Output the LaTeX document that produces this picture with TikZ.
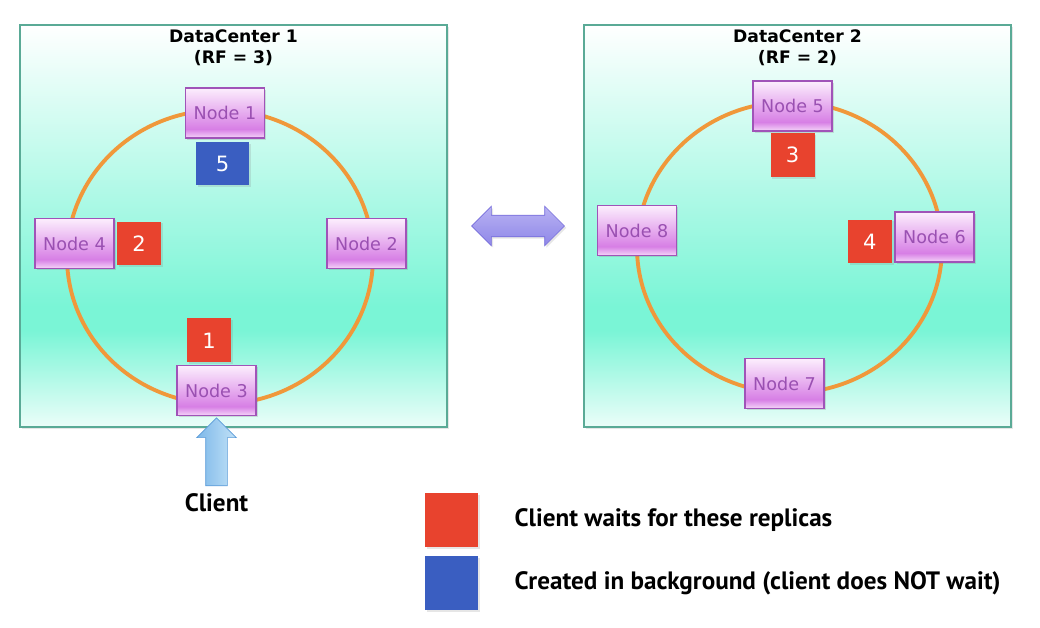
\documentclass[tikz,border=0pt]{standalone}
\usepackage{fontspec}
\setmainfont{DejaVu Sans}
\newfontfamily\legendfont{PT Sans}
\usetikzlibrary{shapes,arrows,positioning,shadows}

\definecolor{dcborder}{HTML}{5AAA96}
\definecolor{dcmint}{HTML}{7AF5D6}
\definecolor{ringorange}{HTML}{F0983A}
\definecolor{nodeborder}{HTML}{A053B8}
\definecolor{nodetext}{HTML}{9A50B2}
\definecolor{nodetop}{HTML}{FCEEFD}
\definecolor{nodemid}{HTML}{D77FE5}
\definecolor{nodelow}{HTML}{F5D6F9}
\definecolor{waitred}{HTML}{E8432E}
\definecolor{bgblue}{HTML}{3A5EC1}
\definecolor{clientlight}{HTML}{C2E1F7}
\definecolor{clientdark}{HTML}{7DB9E9}
\definecolor{clientborder}{HTML}{5B9BD8}
\definecolor{linklight}{HTML}{B8B2F3}
\definecolor{linkdark}{HTML}{8F87E8}
\definecolor{linkborder}{HTML}{756CDB}

\pgfdeclareverticalshading{dcshade}{100bp}{color(0bp)=(dcmint!15); color(25bp)=(dcmint!15); color(37bp)=(dcmint); color(40bp)=(dcmint); color(75bp)=(white); color(100bp)=(white)}
\pgfdeclareverticalshading{nodeshade}{100bp}{color(0bp)=(nodelow); color(25bp)=(nodelow); color(34bp)=(nodemid); color(75bp)=(nodetop); color(100bp)=(nodetop)}

\begin{document}
\begin{tikzpicture}[
    x=0.02cm, y=-0.02cm,
    dcbox/.style={rectangle, draw=dcborder, line width=1.2pt, shading=dcshade, minimum width=8.54cm, minimum height=8.04cm, inner sep=0pt, drop shadow={shadow xshift=1.2pt, shadow yshift=-1.2pt, opacity=0.2}},
    title/.style={font=\bfseries\fontsize{9.8}{11.9}\selectfont, align=center, inner sep=0pt},
    ring/.style={draw=ringorange, line width=2.2pt},
    dbnode/.style={rectangle, draw=nodeborder, line width=0.9pt, shading=nodeshade, minimum width=1.58cm, minimum height=1cm, inner sep=0pt, text=nodetext, font=\fontsize{10}{12}\selectfont, drop shadow={shadow xshift=1pt, shadow yshift=-1pt, opacity=0.25}},
    replica/.style={rectangle, minimum width=0.88cm, minimum height=0.88cm, inner sep=0pt, text=white, font=\fontsize{12}{14}\selectfont, drop shadow={shadow xshift=1pt, shadow yshift=-1pt, opacity=0.2}},
    waitbox/.style={replica, fill=waitred},
    bgbox/.style={replica, fill=bgblue},
    clientarrow/.style={single arrow, shape border rotate=90, draw=clientborder, left color=clientdark, right color=clientlight, minimum height=1.36cm, inner sep=0.21cm, single arrow head extend=0.18cm},
    linkarrow/.style={double arrow, draw=linkborder, top color=linklight, bottom color=linkdark, minimum height=1.86cm, inner sep=0.21cm, double arrow head extend=0.18cm, drop shadow={shadow xshift=1pt, shadow yshift=-1pt, opacity=0.2}},
    legendbox/.style={rectangle, minimum width=1.06cm, minimum height=1.07cm, inner sep=0pt, drop shadow={shadow xshift=1pt, shadow yshift=-1pt, opacity=0.2}},
    legendtext/.style={font=\legendfont\bfseries\fontsize{14.3}{16}\selectfont, inner sep=0pt}
]
\useasboundingbox (0,0) rectangle (1040,628);

% Data centers
\node[dcbox] (dc1) at (233.5,226) {};
\node[dcbox] (dc2) at (797.5,226) {};
\node[title, below=0.1cm of dc1.north] (dc1title) {DataCenter 1\\(RF = 3)};
\node[title, below=0.1cm of dc2.north] (dc2title) {DataCenter 2\\(RF = 2)};

% Rings
\draw[ring] (220,257) ellipse [x radius=153, y radius=147];
\draw[ring] (789.5,247.5) ellipse [x radius=152.5, y radius=145.5];

% Nodes of DataCenter 1
\node[dbnode] (n1) at (225,113) {Node 1};
\node[dbnode] (n2) at (366.5,243.5) {Node 2};
\node[dbnode] (n3) at (216.5,390.5) {Node 3};
\node[dbnode] (n4) at (74.5,243.5) {Node 4};

% Nodes of DataCenter 2
\node[dbnode] (n5) at (792.5,106) {Node 5};
\node[dbnode] (n6) at (934.5,237) {Node 6};
\node[dbnode] (n7) at (784.5,383.5) {Node 7};
\node[dbnode] (n8) at (637,230.5) {Node 8};

% Replicas
\node[waitbox, above=0.04cm of n3, xshift=-0.15cm] (r1) {1};
\node[waitbox, right=0.04cm of n4] (r2) {2};
\node[waitbox, below=0.02cm of n5] (r3) {3};
\node[waitbox, left=0.04cm of n6, yshift=-0.09cm] (r4) {4};
\node[bgbox, below=0.06cm of n1, xshift=-0.05cm, minimum width=1.06cm, minimum height=0.86cm] (r5) {5};

% Client
\node[clientarrow, below=0.02cm of n3] (clientin) {};
\node[legendtext, below=0.14cm of clientin] (client) {Client};

% Link between data centers
\node[linkarrow, right=0.46cm of dc1] (link) {};

% Legend
\node[legendbox, fill=waitred] (keywait) at (451.5,520) {};
\node[legendbox, fill=bgblue, below=0.18cm of keywait] (keybg) {};
\node[legendtext, right=0.72cm of keywait] (waittext) {Client waits for these replicas};
\node[legendtext, right=0.72cm of keybg] (bgtext) {Created in background (client does NOT wait)};

\end{tikzpicture}
\end{document}
